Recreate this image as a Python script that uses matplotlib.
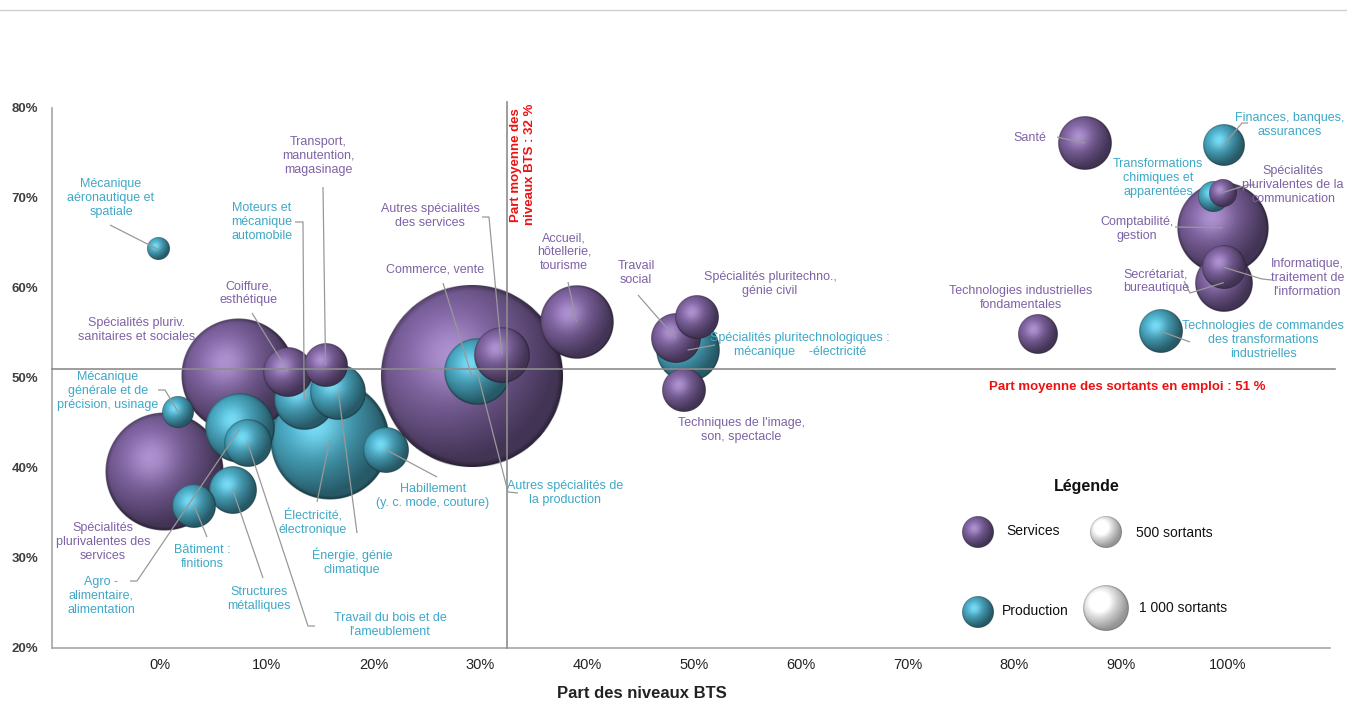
import numpy as np
import matplotlib
matplotlib.use("Agg")
import matplotlib.pyplot as plt

# ---------------- data ----------------
names = [
    "Mécanique aéronautique et spatiale",
    "Spécialités pluriv. sanitaires et sociales",
    "Spécialités plurivalentes des services",
    "Mécanique générale et de précision, usinage",
    "Bâtiment : finitions",
    "Structures métalliques",
    "Agro-alimentaire, alimentation",
    "Travail du bois et de l'ameublement",
    "Coiffure, esthétique",
    "Transport, manutention, magasinage",
    "Moteurs et mécanique automobile",
    "Énergie, génie climatique",
    "Électricité, électronique",
    "Habillement (y. c. mode, couture)",
    "Commerce, vente",
    "Autres spécialités de la production",
    "Autres spécialités des services",
    "Accueil, hôtellerie, tourisme",
    "Travail social",
    "Spécialités pluritechnologiques : mécanique-électricité",
    "Spécialités pluritechno., génie civil",
    "Techniques de l'image, son, spectacle",
    "Santé",
    "Finances, banques, assurances",
    "Transformations chimiques et apparentées",
    "Spécialités plurivalentes de la communication",
    "Comptabilité, gestion",
    "Secrétariat, bureautique",
    "Informatique, traitement de l'information",
    "Technologies industrielles fondamentales",
    "Technologies de commandes des transformations industrielles",
]
domain = ["P", "S", "S", "P", "P", "P", "P", "P", "S", "S", "P", "P", "P", "P", "S", "P",
          "S", "S", "S", "P", "S", "S", "S", "P", "P", "S", "S", "S", "S", "S", "P"]
part_bts = [-0.2, 7.3, 0.4, 1.7, 3.2, 6.8, 7.5, 8.2, 12.0, 15.5, 13.5, 16.7, 15.9, 21.2,
            29.2, 29.7, 32.0, 39.0, 48.3, 49.4, 50.3, 49.1, 86.6, 99.6, 98.6, 99.5, 99.5,
            99.6, 99.6, 82.2, 93.7]
part_emploi = [64.3, 50.2, 39.6, 46.2, 35.8, 37.6, 44.4, 42.8, 50.7, 51.4, 47.6, 48.4, 43.1,
               42.0, 50.2, 50.7, 52.6, 56.2, 54.4, 53.1, 56.8, 48.7, 76.1, 75.9, 70.1, 70.6,
               66.7, 60.6, 62.3, 54.9, 55.2]
sortants = [240, 6350, 6800, 500, 945, 1125, 2390, 1125, 1220, 945, 1760, 1530, 7030, 1030,
            16530, 2130, 1530, 2670, 1220, 2000, 945, 945, 1420, 860, 440, 380, 4130, 1640,
            945, 780, 945]
mean_bts = 32.5
mean_emploi = 51.0
xticks = [0, 10, 20, 30, 40, 50, 60, 70, 80, 90, 100]
yticks = [20, 30, 40, 50, 60, 70, 80]

# ---------------- style ----------------
W, H = 1347, 702
FONT = ["Liberation Sans", "DejaVu Sans"]
plt.rcParams["font.family"] = FONT
PURPLE = "#8064A2"
TEAL = "#4BACC6"
PURPLE_T = "#7E62A6"
TEAL_T = "#3FA8C6"
LINEC = "#8c8c8c"
LAB_FS = 9

def size_px(n):
    return 16.0 * np.sqrt(n / 500.0)

def sphere(color, N=200, amb=0.52, k=0.52, ks=0.17):
    rgb = np.array(matplotlib.colors.to_rgb(color))
    t = np.linspace(-1, 1, N)
    u, v = np.meshgrid(t, t)
    rho = np.sqrt(u ** 2 + v ** 2)
    z = np.sqrt(np.clip(1 - rho ** 2, 0, 1))
    L = np.array([-0.4, 0.4, 0.82]); L = L / np.linalg.norm(L)
    diff = np.clip(u * L[0] + v * L[1] + z * L[2], 0, 1)
    Hh = L + np.array([0, 0, 1.0]); Hh = Hh / np.linalg.norm(Hh)
    spec = np.clip(u * Hh[0] + v * Hh[1] + z * Hh[2], 0, 1) ** 12
    fac = amb + k * diff ** 1.3
    rim = np.clip((rho - 0.93) / 0.07, 0, 1) * 0.22
    img = rgb[None, None, :] * (fac - rim)[..., None] + ks * spec[..., None]
    img = np.clip(img, 0, 1)
    alpha = np.clip((1 - rho) * N / 2.0, 0, 1)
    return np.dstack([img, alpha])

SPH = {"S": sphere(PURPLE), "P": sphere(TEAL)}
SPH_W = sphere("#f2f2f2", amb=0.62, k=0.45, ks=0.2)

fig = plt.figure(figsize=(W / 100, H / 100), dpi=100)
x0, x1 = (52 - 160) / 10.68, (1330 - 160) / 10.68
ax = fig.add_axes([52 / W, 1 - 648 / H, (1330 - 52) / W, 540 / H])
ax.set_xlim(x0, x1)
ax.set_ylim(20, 80)

# pixel scale of data units
p0 = ax.transData.transform((0, 0))
p1 = ax.transData.transform((1, 1))
sx, sy = p1[0] - p0[0], p1[1] - p0[1]

order = np.argsort(sortants)[::-1]
for rank, i in enumerate(order):
    r = size_px(sortants[i])
    hw, hh = r / sx, r / sy
    ax.imshow(SPH[domain[i]], extent=(part_bts[i] - hw, part_bts[i] + hw,
                                      part_emploi[i] - hh, part_emploi[i] + hh),
              origin="lower", aspect="auto", zorder=2 + rank * 0.01,
              interpolation="antialiased")
ax.set_xlim(x0, x1)
ax.set_ylim(20, 80)

# reference lines
ax.plot([mean_bts, mean_bts], [20, 80.7], color=LINEC, lw=1.2, zorder=10, clip_on=False)
ax.plot([x0, 110.0], [mean_emploi, mean_emploi], color=LINEC, lw=1.2, zorder=10, clip_on=False)

for s in ["top", "right"]:
    ax.spines[s].set_visible(False)
for s in ["left", "bottom"]:
    ax.spines[s].set_color("#a6a6a6")
    ax.spines[s].set_linewidth(1.2)
ax.set_xticks(xticks)
ax.set_xticklabels([f"{t}%" for t in xticks], fontsize=10.5, color="#222222")
ax.set_yticks(yticks)
ax.set_yticklabels([f"{t}%" for t in yticks], fontsize=9.5, color="#404040", fontweight="bold")
ax.tick_params(length=0)
ax.tick_params(axis="y", pad=10)
ax.tick_params(axis="x", pad=7)
ax.patch.set_alpha(0)

# ---------------- overlay (pixel coords) ----------------
ov = fig.add_axes([0, 0, 1, 1], zorder=5)
ov.set_xlim(0, W)
ov.set_ylim(H, 0)
ov.axis("off")
ov.patch.set_alpha(0)

def center_px(i):
    d = ax.transData.transform((part_bts[i], part_emploi[i]))
    return d[0], H - d[1]

# label text, x, y, leader points (px) ; leader ends at bubble centre
labels = [
    (0, "Mécanique\naéronautique et\nspatiale", 111, 198, [(110, 225)]),
    (1, "Spécialités pluriv.\nsanitaires et sociales", 137, 330, None),
    (2, "Spécialités\nplurivalentes des\nservices", 103, 542, None),
    (3, "Mécanique\ngénérale et de\nprécision, usinage", 108, 391, [(158, 390), (165, 390)]),
    (4, "Bâtiment :\nfinitions", 202, 557, [(207, 537)]),
    (5, "Structures\nmétalliques", 259, 599, [(263, 578)]),
    (6, "Agro -\nalimentaire,\nalimentation", 101, 596, [(130, 581), (137, 581)]),
    (7, "Travail du bois et de\nl'ameublement", 390, 625, [(315, 626), (308, 626)]),
    (8, "Coiffure,\nesthétique", 249, 293, [(252, 313)]),
    (9, "Transport,\nmanutention,\nmagasinage", 318, 156, [(323, 187)]),
    (10, "Moteurs et\nmécanique\nautomobile", 262, 222, [(295, 222), (303, 222)]),
    (11, "Énergie, génie\nclimatique", 352, 562, [(357, 533)]),
    (12, "Électricité,\nélectronique", 313, 523, [(317, 502)]),
    (13, "Habillement\n(y. c. mode, couture)", 433, 496, [(437, 477)]),
    (14, "Commerce, vente", 435, 270, [(443, 283)]),
    (15, "Autres spécialités de\nla production", 565, 493, [(518, 493), (508, 492)]),
    (16, "Autres spécialités\ndes services", 430, 216, [(482, 217), (489, 217)]),
    (17, "Accueil,\nhôtellerie,\ntourisme", 564, 252, [(568, 282)]),
    (18, "Travail\nsocial", 636, 273, [(638, 295)]),
    (19, "Spécialités pluritechnologiques :\nmécanique    -électricité", 800, 345, [(715, 345)]),
    (20, "Spécialités pluritechno.,\ngénie civil", 770, 284, None),
    (21, "Techniques de l'image,\nson, spectacle", 741, 430, None),
    (22, "Santé", 1030, 138, [(1057, 137)]),
    (23, "Finances, banques,\nassurances", 1308, 125, [(1248, 123), (1242, 123)]),
    (24, "Transformations\nchimiques et\napparentées", 1158, 178, None),
    (25, "Spécialités\nplurivalentes de la\ncommunication", 1314, 185, [(1255, 185), (1247, 185)]),
    (26, "Comptabilité,\ngestion", 1137, 229, [(1175, 227)]),
    (27, "Secrétariat,\nbureautique", 1156, 281, [(1184, 281), (1190, 293)]),
    (28, "Informatique,\ntraitement de\nl'information", 1318, 278, [(1272, 280), (1262, 279)]),
    (29, "Technologies industrielles\nfondamentales", 1021, 298, None),
    (30, "Technologies de commandes\ndes transformations\nindustrielles", 1276, 340, [(1190, 342)]),
]
renderer = fig.canvas.get_renderer()
for i, txt, tx, ty, pts in labels:
    col = PURPLE_T if domain[i] == "S" else TEAL_T
    t = ov.text(tx, ty, txt, ha="center", va="center", fontsize=LAB_FS, color=col,
                linespacing=1.2, clip_on=False)
    bb = t.get_window_extent(renderer)
    if bb.x1 > W - 3:
        t.set_x(tx - (bb.x1 - (W - 3)))
    if pts:
        cx, cy = center_px(i)
        xs = [p[0] for p in pts] + [cx]
        ys = [p[1] for p in pts] + [cy]
        ov.plot(xs, ys, color="#999999", lw=0.9, solid_capstyle="butt")

# mean annotations
ov.text(1127, 387, "Part moyenne des sortants en emploi : 51 %", ha="center", va="center",
        fontsize=9.5, color="#ee1111", fontweight="bold")
ov.text(523, 104, "Part moyenne des\nniveaux BTS : 32 %", ha="center", va="top",
        rotation=90, fontsize=9.5, color="#ee1111", fontweight="bold", linespacing=1.3)

# axis title
ov.text(642, 693, "Part des niveaux BTS", ha="center", va="center", fontsize=12,
        fontweight="bold", color="#222222")

# top separator
ov.plot([0, W], [10, 10], color="#d0d0d0", lw=1)

# legend
ov.text(1087, 487, "Légende", ha="center", va="center", fontsize=11.5, fontweight="bold",
        color="#111111")
def leg_ball(img, cx, cy, r):
    ov.imshow(img, extent=(cx - r, cx + r, cy + r, cy - r), origin="lower", aspect="auto",
              zorder=3, interpolation="antialiased")
leg_ball(SPH["S"], 978, 532, 16)
leg_ball(SPH["P"], 978, 612, 16)
leg_ball(SPH_W, 1106, 532, size_px(500))
leg_ball(SPH_W, 1106, 608, size_px(1000))
ov.text(1006, 531, "Services", ha="left", va="center", fontsize=10, color="#111111")
ov.text(1002, 611, "Production", ha="left", va="center", fontsize=10, color="#111111")
ov.text(1136, 533, "500 sortants", ha="left", va="center", fontsize=10, color="#111111")
ov.text(1139, 608, "1 000 sortants", ha="left", va="center", fontsize=10, color="#111111")
ov.set_xlim(0, W)
ov.set_ylim(H, 0)

fig.savefig("out.png", dpi=100)
